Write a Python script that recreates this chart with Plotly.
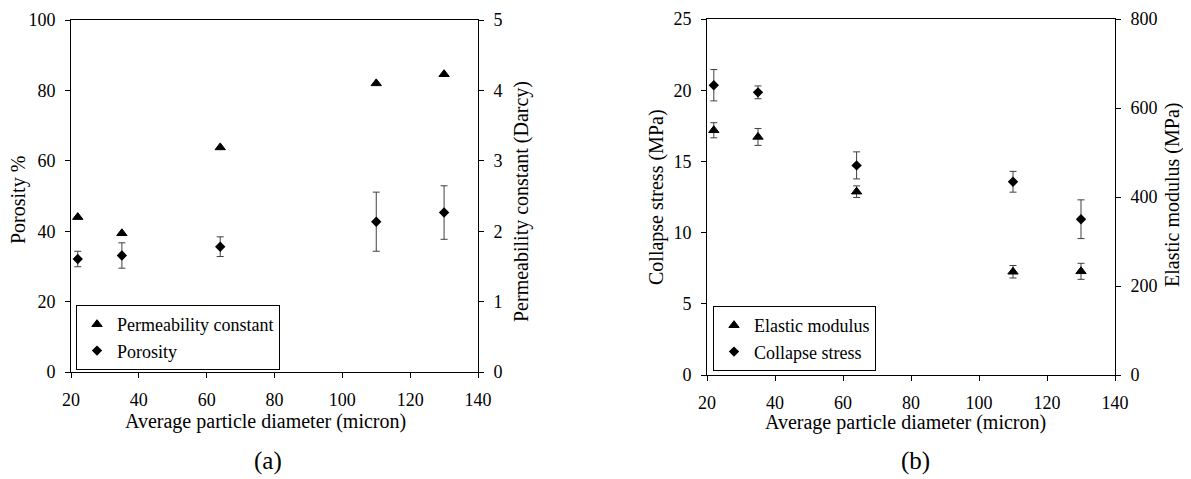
import plotly.graph_objects as go

# ---------------- data ----------------
diameter = [22, 35, 64, 110, 130]

# panel (a)
permeability = [2.2, 1.97, 3.19, 4.10, 4.23]          # Darcy (right axis)
porosity = [32.1, 33.1, 35.6, 42.7, 45.3]              # % (left axis)
porosity_err = [2.2, 3.6, 2.8, 8.4, 7.6]

# panel (b)
elastic_modulus = [550, 535, 412, 232, 233]            # MPa (right axis)
elastic_modulus_err = [17, 19, 13, 14, 18]
collapse_stress = [20.35, 19.85, 14.72, 13.57, 10.94]  # MPa (left axis)
collapse_stress_err = [1.1, 0.45, 0.95, 0.73, 1.36]

x_ticks = [20, 40, 60, 80, 100, 120, 140]

# page body has an 8px default margin, so the figure is shrunk and shifted by it
PAGE_W, PAGE_H, OFF = 1191, 479, 8
W, H = PAGE_W - OFF, PAGE_H - OFF
FONT = "Liberation Serif"
ERR_COLOR = "#404040"


def px(x):
    return (x - OFF) / W


def py(y):
    return 1 - (y - OFF) / H


fig = go.Figure()

tri = dict(symbol="triangle-up", size=9, color="black", line=dict(width=1, color="black"))
dia = dict(symbol="diamond", size=8, color="black")

# ---- panel (a) ----
fig.add_trace(go.Scatter(
    x=diameter, y=permeability, mode="markers", name="Permeability constant",
    marker=tri, xaxis="x", yaxis="y2", legend="legend"))
fig.add_trace(go.Scatter(
    x=diameter, y=porosity, mode="markers", name="Porosity", marker=dia,
    error_y=dict(type="data", array=porosity_err, visible=True, color=ERR_COLOR, thickness=1, width=3.5),
    xaxis="x", yaxis="y", legend="legend"))

# ---- panel (b) ----
fig.add_trace(go.Scatter(
    x=diameter, y=elastic_modulus, mode="markers", name="Elastic modulus", marker=tri,
    error_y=dict(type="data", array=elastic_modulus_err, visible=True, color=ERR_COLOR, thickness=1, width=3.5),
    xaxis="x2", yaxis="y4", legend="legend2"))
fig.add_trace(go.Scatter(
    x=diameter, y=collapse_stress, mode="markers", name="Collapse stress", marker=dia,
    error_y=dict(type="data", array=collapse_stress_err, visible=True, color=ERR_COLOR, thickness=1, width=3.5),
    xaxis="x2", yaxis="y3", legend="legend2"))

axis_common = dict(showline=True, linecolor="black", linewidth=1, ticks="outside", ticklen=5,
                   tickcolor="black", tickwidth=1, showgrid=False, zeroline=False, automargin=False,
                   tickfont=dict(family=FONT, size=18, color="black"))

xa = dict(axis_common, range=[20, 140], tickvals=x_ticks, mirror=True, ticklabelstandoff=6)

legend_style = dict(xanchor="left", yanchor="top", bgcolor="white", bordercolor="black",
                    borderwidth=1, font=dict(family=FONT, size=18, color="black"))

fig.update_layout(
    width=W, height=H,
    margin=dict(l=0, r=0, t=0, b=0, autoexpand=False),
    template="none",
    paper_bgcolor="white", plot_bgcolor="white",
    font=dict(family=FONT, size=18, color="black"),
    xaxis=dict(xa, domain=[px(71), px(478)], anchor="y"),
    yaxis=dict(axis_common, domain=[py(372), py(20)], range=[0, 100], dtick=20, anchor="x",
               ticklabelstandoff=6),
    yaxis2=dict(axis_common, range=[0, 5], dtick=1, overlaying="y", side="right", anchor="x",
                ticklabelstandoff=6),
    xaxis2=dict(xa, domain=[px(707), px(1115)], anchor="y3"),
    yaxis3=dict(axis_common, domain=[py(375), py(19)], range=[0, 25], dtick=5, anchor="x2",
                ticklabelstandoff=6),
    yaxis4=dict(axis_common, range=[0, 800], dtick=200, overlaying="y3", side="right", anchor="x2",
                ticklabelstandoff=6),
    legend=dict(legend_style, x=px(76), y=py(305)),
    legend2=dict(legend_style, x=px(713), y=py(306)),
    showlegend=True,
)

annots = [
    ("Porosity %", 18, 200, -90, 20),
    ("Permeability constant (Darcy)", 521, 202, -90, 20),
    ("Collapse stress (MPa)", 656, 197, -90, 20),
    ("Elastic modulus (MPa)", 1172, 195, -90, 20),
    ("Average particle diameter (micron)", 265, 421, 0, 20),
    ("Average particle diameter (micron)", 905, 422, 0, 20),
    ("(a)", 268, 461, 0, 25),
    ("(b)", 915, 461, 0, 25),
]
for text, x, y, ang, size in annots:
    fig.add_annotation(text=text, x=px(x), y=py(y), xref="paper", yref="paper",
                       xanchor="center", yanchor="middle", textangle=ang, showarrow=False,
                       font=dict(family=FONT, size=size, color="black"))

fig.write_html("out.html")
